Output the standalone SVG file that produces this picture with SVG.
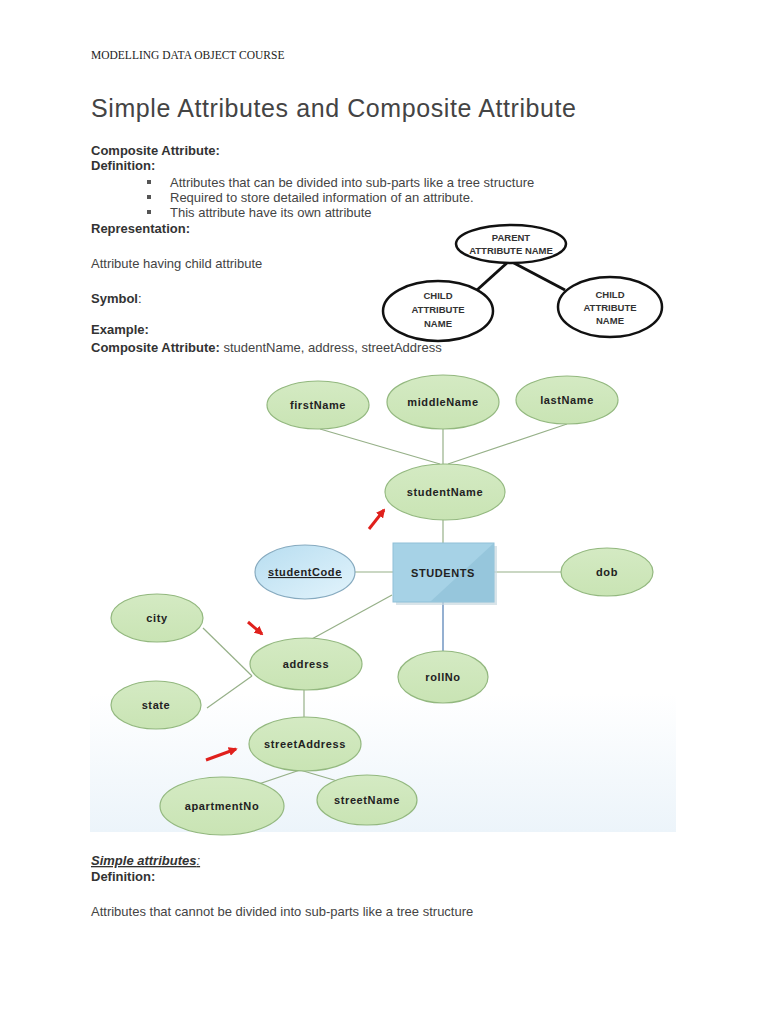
<svg xmlns="http://www.w3.org/2000/svg" width="768" height="1024" viewBox="0 0 768 1024">
<defs>
<style>
.body{font-family:"Liberation Sans",Arial,sans-serif;font-size:13px;fill:#444}
.b{font-weight:bold;fill:#333}
.sym{fill:#fff;stroke:#111;stroke-width:2.5}
.symt{font-family:"Liberation Sans",Arial,sans-serif;font-size:9.5px;font-weight:bold;fill:#333;text-anchor:middle}
.attr{fill:url(#g);stroke:#93b87f;stroke-width:1.2}
.lbl{font-family:"Liberation Sans",Arial,sans-serif;font-size:11px;font-weight:bold;fill:#222;text-anchor:middle;letter-spacing:0.6px}
.ln{stroke:#96b088;stroke-width:1.2;fill:none}
.red{stroke:#e0201c;stroke-width:3;fill:none}
</style>
<linearGradient id="bg" x1="0" y1="0" x2="0" y2="1">
<stop offset="0" stop-color="#fff"/>
<stop offset="0.7" stop-color="#fff"/>
<stop offset="1" stop-color="#ecf4fa"/>
</linearGradient>
<linearGradient id="g" x1="0" y1="0" x2="0" y2="1">
<stop offset="0" stop-color="#d4eac3"/>
<stop offset="1" stop-color="#c9e4b4"/>
</linearGradient>
<linearGradient id="bl" x1="0" y1="0" x2="1" y2="1">
<stop offset="0" stop-color="#b7ddf0"/>
<stop offset="1" stop-color="#e3f4fc"/>
</linearGradient>
<marker id="ah" viewBox="0 0 10 10" refX="8" refY="5" markerWidth="3" markerHeight="3" orient="auto">
<path d="M0,0 L10,5 L0,10 z" fill="#e0201c"/>
</marker>
</defs>
<rect width="768" height="1024" fill="#fff"/>

<text x="91" y="59" font-family="Liberation Serif,serif" font-size="11.5" fill="#222">MODELLING DATA OBJECT COURSE</text>
<text x="91" y="117" font-family="Liberation Sans,Arial,sans-serif" font-size="25" fill="#444" textLength="485">Simple Attributes and Composite Attribute</text>

<text class="body b" x="91" y="155">Composite Attribute:</text>
<text class="body b" x="91" y="170">Definition:</text>
<rect x="147" y="180" width="4" height="4" fill="#555"/>
<rect x="147" y="195" width="4" height="4" fill="#555"/>
<rect x="147" y="210" width="4" height="4" fill="#555"/>
<text class="body" x="170" y="187">Attributes that can be divided into sub-parts like a tree structure</text>
<text class="body" x="170" y="202">Required to store detailed information of an attribute.</text>
<text class="body" x="170" y="217">This attribute have its own attribute</text>
<text class="body b" x="91" y="233">Representation:</text>
<text class="body" x="91" y="268">Attribute having child attribute</text>
<text class="body b" x="91" y="303">Symbol<tspan font-weight="normal">:</tspan></text>
<text class="body b" x="91" y="334">Example:</text>
<text class="body b" x="91" y="352">Composite Attribute: <tspan font-weight="normal" fill="#444">studentName, address, streetAddress</tspan></text>

<g id="symbol-connectors">
<line x1="508" y1="262" x2="477" y2="290" stroke="#111" stroke-width="3"/>
<line x1="512" y1="262" x2="565" y2="290" stroke="#111" stroke-width="3"/>
</g>
<g id="sym-parent">
<ellipse class="sym" cx="511" cy="244" rx="55" ry="19"/>
<text class="symt" x="511" y="241">PARENT</text>
<text class="symt" x="511" y="254">ATTRIBUTE NAME</text>
</g>
<g id="sym-child-left">
<ellipse class="sym" cx="438" cy="311" rx="55" ry="30"/>
<text class="symt" x="438" y="299">CHILD</text>
<text class="symt" x="438" y="313">ATTRIBUTE</text>
<text class="symt" x="438" y="327">NAME</text>
</g>
<g id="sym-child-right">
<ellipse class="sym" cx="610" cy="307" rx="52" ry="30"/>
<text class="symt" x="610" y="298" font-weight="normal">CHILD</text>
<text class="symt" x="610" y="311" font-weight="normal">ATTRIBUTE</text>
<text class="symt" x="610" y="324" font-weight="normal">NAME</text>
</g>

<rect x="90" y="370" width="586" height="462" fill="url(#bg)"/>

<g id="connectors">
<line class="ln" x1="320" y1="429" x2="440" y2="464"/>
<line class="ln" x1="443" y1="429" x2="443" y2="464"/>
<line class="ln" x1="567" y1="424" x2="448" y2="464"/>
<line class="ln" x1="443" y1="520" x2="443" y2="543"/>
<line class="ln" x1="355" y1="572" x2="393" y2="572"/>
<line class="ln" x1="494" y1="572" x2="561" y2="572"/>
<line x1="443" y1="602" x2="443" y2="651" stroke="#5b86b8" stroke-width="1.3"/>
<line class="ln" x1="392" y1="595" x2="310" y2="640"/>
<line class="ln" x1="203" y1="628" x2="252" y2="676"/>
<line class="ln" x1="207" y1="708" x2="252" y2="676"/>
<line class="ln" x1="304" y1="690" x2="304" y2="717"/>
<line class="ln" x1="300" y1="770" x2="244" y2="789"/>
<line class="ln" x1="300" y1="770" x2="361" y2="788"/>
<line class="red" x1="369" y1="529" x2="384" y2="510" marker-end="url(#ah)"/>
<line class="red" x1="248" y1="622" x2="262" y2="634" marker-end="url(#ah)"/>
<line class="red" x1="206" y1="760" x2="236" y2="749" marker-end="url(#ah)"/>
</g>

<g id="firstName"><ellipse class="attr" cx="318" cy="405" rx="51" ry="24"/><text class="lbl" x="318" y="409">firstName</text></g>
<g id="middleName"><ellipse class="attr" cx="443" cy="402" rx="56" ry="27"/><text class="lbl" x="443" y="406">middleName</text></g>
<g id="lastName"><ellipse class="attr" cx="567" cy="400" rx="51" ry="24"/><text class="lbl" x="567" y="404">lastName</text></g>
<g id="studentName"><ellipse class="attr" cx="445" cy="492" rx="60" ry="28"/><text class="lbl" x="445" y="496">studentName</text></g>
<g id="studentCode"><ellipse cx="305" cy="572" rx="50" ry="27" fill="url(#bl)" stroke="#86aabf" stroke-width="1.2"/><text class="lbl" x="305" y="576" text-decoration="underline">studentCode</text></g>
<g id="STUDENTS">
<rect x="396" y="546" width="101" height="59" fill="#c9d8e0" opacity="0.7"/>
<rect x="393" y="543" width="101" height="59" fill="#a6d2e6" stroke="#8fc0d8" stroke-width="1"/>
<path d="M494,543 L494,602 L430,602 Z" fill="#96c6dc"/>
<text class="lbl" x="443" y="577" font-size="11.5" fill="#2a3a46">STUDENTS</text>
</g>
<g id="dob"><ellipse class="attr" cx="607" cy="572" rx="46" ry="24"/><text class="lbl" x="607" y="576">dob</text></g>
<g id="city"><ellipse class="attr" cx="157" cy="618" rx="46" ry="24"/><text class="lbl" x="157" y="622">city</text></g>
<g id="address"><ellipse class="attr" cx="306" cy="664" rx="56" ry="26"/><text class="lbl" x="306" y="668">address</text></g>
<g id="rollNo"><ellipse class="attr" cx="443" cy="677" rx="45" ry="26"/><text class="lbl" x="443" y="681">rollNo</text></g>
<g id="state"><ellipse class="attr" cx="156" cy="705" rx="45" ry="24"/><text class="lbl" x="156" y="709">state</text></g>
<g id="streetAddress"><ellipse class="attr" cx="305" cy="744" rx="56" ry="27"/><text class="lbl" x="305" y="748" letter-spacing="0.3px">streetAddress</text></g>
<g id="apartmentNo"><ellipse class="attr" cx="222" cy="806" rx="62" ry="29" stroke-width="2"/><text class="lbl" x="222" y="810" font-weight="normal" font-size="12" letter-spacing="0">apartmentNo</text></g>
<g id="streetName"><ellipse class="attr" cx="367" cy="800" rx="50" ry="25"/><text class="lbl" x="367" y="804" letter-spacing="0.3px">streetName</text></g>

<text class="body b" x="91" y="865" font-style="italic" text-decoration="underline">Simple attributes<tspan font-weight="normal">:</tspan></text>
<text class="body b" x="91" y="881">Definition:</text>
<text class="body" x="91" y="916">Attributes that cannot be divided into sub-parts like a tree structure</text>
</svg>
